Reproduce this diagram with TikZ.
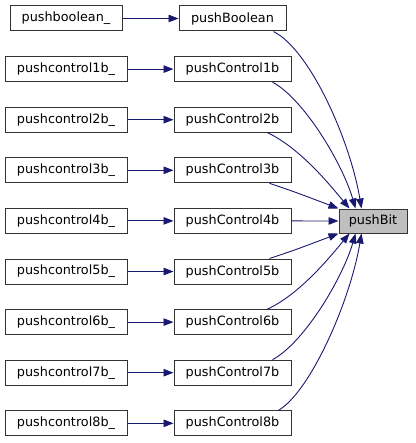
\documentclass[tikz,border=0pt]{standalone}
\usepackage{fontspec}
\setmainfont{DejaVu Sans}
\usetikzlibrary{arrows.meta}
\definecolor{edgeblue}{HTML}{191970}
\definecolor{bitgray}{HTML}{BFBFBF}
\tikzset{
  fnbox/.style={draw=black!80,line width=1pt,fill=white,minimum height=25pt,inner sep=0pt,
    font=\fontsize{12.8}{14}\selectfont},
  srcbox/.style={fnbox,minimum width=122pt},
  ctlbox/.style={fnbox,minimum width=117pt},
  edge/.style={draw=edgeblue,line width=0.9pt,-{Triangle[length=10pt,width=7.5pt]}}
}
\begin{document}
\begin{tikzpicture}[x=1pt,y=-1pt]
\useasboundingbox (0,0) rectangle (415,443);

\node[fnbox,minimum width=112pt] (srcbool) at (66,18.5) {pushboolean\_};
\node[fnbox,minimum width=107pt] (ctlbool) at (232.5,18.5) {pushBoolean};
\foreach \i in {1,...,8}{
  \node[srcbox] (src\i) at (66,18.5+50.6*\i) {pushcontrol\i b\_};
  \node[ctlbox] (ctl\i) at (232.5,18.5+50.6*\i) {pushControl\i b};
  \draw[edge] (src\i) -- (ctl\i);
}
\draw[edge] (srcbool) -- (ctlbool);

\node[fnbox,fill=bitgray,minimum width=68pt,minimum height=24pt] (bit) at (373,221) {pushBit};

% upper half
\draw[edge] ([xshift=-13pt]ctlbool.south east) .. controls (310,50) and (350,140) .. ([xshift=23pt]bit.north west);
\draw[edge] ([xshift=-19pt]ctl1.south east) .. controls (305,100) and (343,165) .. ([xshift=17pt]bit.north west);
\draw[edge] ([xshift=-24pt]ctl2.south east) .. controls (300,148) and (330,185) .. ([xshift=11pt]bit.north west);
\draw[edge] ([xshift=-22pt]ctl3.south east) .. controls (295,192) .. (bit.north west);
\draw[edge] (ctl4) -- (bit);
% lower half
\draw[edge] ([xshift=-22pt]ctl5.north east) .. controls (295,250) .. (bit.south west);
\draw[edge] ([xshift=-24pt]ctl6.north east) .. controls (300,294) and (330,257) .. ([xshift=11pt]bit.south west);
\draw[edge] ([xshift=-19pt]ctl7.north east) .. controls (305,342) and (343,277) .. ([xshift=17pt]bit.south west);
\draw[edge] ([xshift=-13pt]ctl8.north east) .. controls (310,392) and (350,302) .. ([xshift=23pt]bit.south west);
\end{tikzpicture}
\end{document}
